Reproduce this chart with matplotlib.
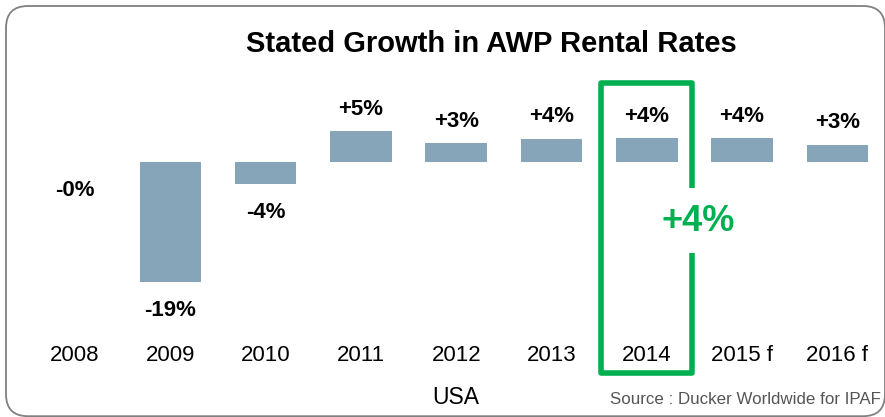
import matplotlib.pyplot as plt
from matplotlib.patches import FancyBboxPatch

plt.rcParams['font.family'] = ['Liberation Sans', 'DejaVu Sans']

# data
years = ['2008', '2009', '2010', '2011', '2012', '2013', '2014', '2015 f', '2016 f']
growth = [-0.02, -19.0, -3.5, 4.9, 3.0, 3.65, 3.8, 3.8, 2.7]
growth_labels = ['-0%', '-19%', '-4%', '+5%', '+3%', '+4%', '+4%', '+4%', '+3%']
highlight_year = '2014'
highlight_label = '+4%'
region = 'USA'

bar_color = '#87A5B9'
green = '#00B050'

W, H = 885, 417
fig = plt.figure(figsize=(W / 100, H / 100), dpi=100)

# axes span the whole figure, so data units map straight to pixels
ax = fig.add_axes([27.35 / W, 0, 857.7 / W, 1])
px_per_pct = 6.3
base = 162
ax.set_xlim(-0.5, len(years) - 0.5)
ax.set_ylim(-(H - base) / px_per_pct, base / px_per_pct)
ax.axis('off')

x = list(range(len(years)))
ax.bar(x, growth, width=0.645, color=bar_color, lw=0, zorder=2)

for xi, v, lab in zip(x, growth, growth_labels):
    if v >= 0:
        ax.text(xi, v + 3.5, lab, ha='center', va='center',
                fontsize=16, fontweight='bold')
    else:
        ax.text(xi, v - 4.5, lab, ha='center', va='center',
                fontsize=16, fontweight='bold')

y_year = (base - 355.7) / px_per_pct
for xi, yr in zip(x, years):
    ax.text(xi, y_year, yr, ha='center', va='center', fontsize=16)

ax.text(4, (base - 398) / px_per_pct, region, ha='center', va='center', fontsize=16.5)

# green highlight box around 2014, right side broken for the big label
hi = years.index(highlight_year)
xl, xr = hi - 0.476, hi + 0.476
yt = (base - 82.5) / px_per_pct
yb = (base - 373) / px_per_pct
gap_top = (base - 187.7) / px_per_pct
gap_bot = (base - 252.7) / px_per_pct
lw = 4
ax.plot([xr, xr, xl, xl, xr, xr], [gap_top, yt, yt, yb, yb, gap_bot],
        color=green, lw=lw, solid_joinstyle='round', solid_capstyle='butt',
        zorder=3, clip_on=False)
ax.text(hi + 0.537, (base - 221.7) / px_per_pct, highlight_label, ha='center',
        va='center', fontsize=26, fontweight='bold', color=green)

fig.text(491 / W, 1 - 44 / H, 'Stated Growth in AWP Rental Rates', ha='center',
         va='center', fontsize=21, fontweight='bold')
fig.text(881 / W, 1 - 400 / H, 'Source : Ducker Worldwide for IPAF', ha='right',
         va='center', fontsize=12.2, color='#555555')

# rounded frame (in inches so the corners stay round)
frame = FancyBboxPatch((0.06, 0.008), 8.79, 4.102,
                       boxstyle='round,pad=0,rounding_size=0.22',
                       transform=fig.dpi_scale_trans, fill=False,
                       edgecolor='#808080', lw=1.3)
fig.patches.append(frame)

fig.savefig('out.png', dpi=100)
